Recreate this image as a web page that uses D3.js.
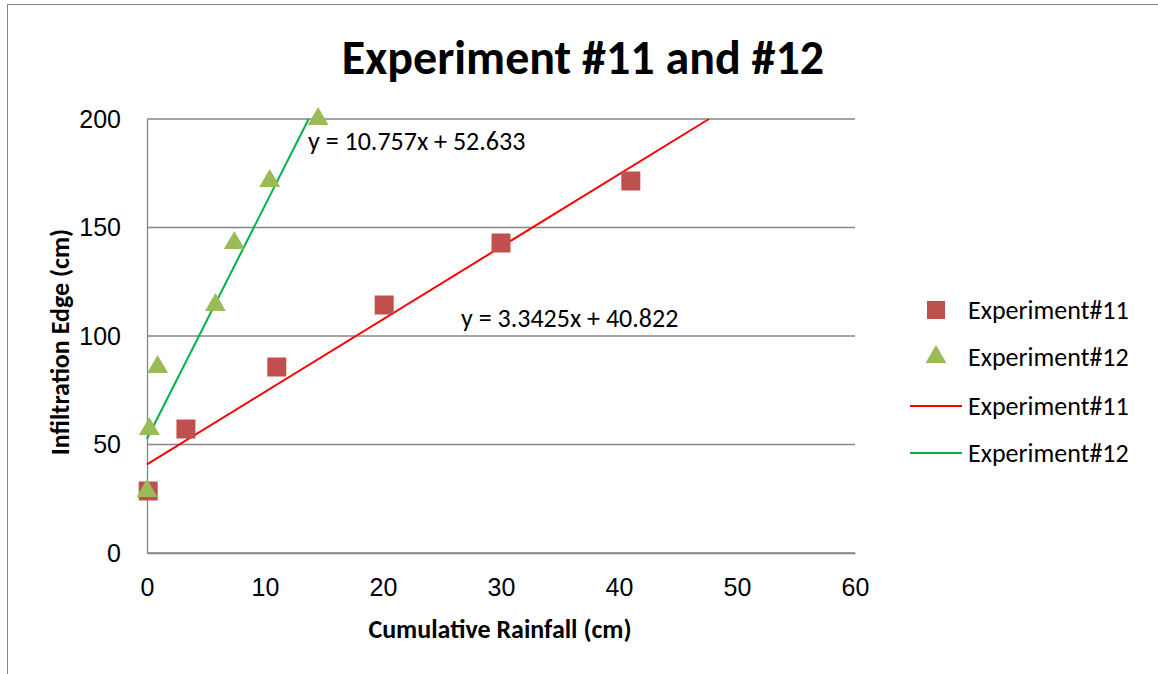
<!DOCTYPE html>
<html><head><meta charset="utf-8">
<script src="https://cdn.jsdelivr.net/npm/d3@7"></script>
<style>body{margin:0;background:#fff;} svg{display:block;font-family:Carlito,Calibri,Lato,"Open Sans",sans-serif;}</style>
</head><body>
<svg id="chart" width="1158" height="674"></svg>
<script>
const exp11X = [0.1, 3.3, 11.0, 20.1, 30.0, 41.0];
const exp11Y = [28.57, 57.14, 85.71, 114.29, 142.86, 171.43];
const exp12X = [0.0, 0.2, 0.9, 5.8, 7.4, 10.4, 14.5];
const exp12Y = [28.57, 57.14, 85.71, 114.29, 142.86, 171.43, 200];
const trend11 = {slope: 3.3425, intercept: 40.822, label: "y = 3.3425x + 40.822"};
const trend12 = {slope: 10.757, intercept: 52.633, label: "y = 10.757x + 52.633"};
const xTicks = [0, 10, 20, 30, 40, 50, 60];
const yTicks = [0, 50, 100, 150, 200];
const legendLabels = ["Experiment#11", "Experiment#12", "Experiment#11", "Experiment#12"];

(function () {
const svg = d3.select("#chart");
const pL = 147, pR = 855, pT = 119, pB = 553;
const x = d3.scaleLinear().domain([0, 60]).range([pL, pR]);
const y = d3.scaleLinear().domain([0, 200]).range([pB, pT]);
const FS = 26;

// outer border
svg.append("rect").attr("x", 7.5).attr("y", 4.5).attr("width", 1160).attr("height", 700)
  .attr("fill", "none").attr("stroke", "#868686").attr("stroke-width", 1);

// title
svg.append("text").attr("x", 583).attr("y", 74).attr("text-anchor", "middle")
  .attr("font-weight", "bold").attr("font-size", 48).attr("fill", "#000")
  .text("Experiment #11 and #12");

// gridlines
svg.append("g").selectAll("line").data(yTicks).join("line")
  .attr("x1", pL).attr("x2", pR).attr("y1", d => y(d)).attr("y2", d => y(d))
  .attr("stroke", "#868686").attr("stroke-width", 1.3);

// axes
const yAxis = svg.append("g").attr("transform", `translate(${pL},0)`)
  .call(d3.axisLeft(y).tickValues(yTicks).tickSize(0).tickPadding(26));
const xAxis = svg.append("g").attr("transform", `translate(0,${pB})`)
  .call(d3.axisBottom(x).tickValues(xTicks).tickSize(0).tickPadding(25));
[yAxis, xAxis].forEach(a => {
  a.select(".domain").attr("stroke", "#868686").attr("stroke-width", 1.3);
  a.selectAll("text").attr("font-size", 25).attr("fill", "#000").attr("font-family", "inherit");
});

// axis titles
svg.append("text").attr("x", 500).attr("y", 638).attr("text-anchor", "middle")
  .attr("font-weight", "bold").attr("font-size", FS).text("Cumulative Rainfall (cm)");
svg.append("text").attr("transform", `translate(69,342) rotate(-90)`)
  .attr("text-anchor", "middle").attr("font-weight", "bold").attr("font-size", FS)
  .text("Infiltration Edge (cm)");

// trendlines
function trendPts(t) {
  const xEnd = (200 - t.intercept) / t.slope;
  return [[0, t.intercept], [xEnd, 200]];
}
const line = d3.line().x(d => x(d[0])).y(d => y(d[1]));
svg.append("path").attr("d", line(trendPts(trend11))).attr("stroke", "#FF0000").attr("stroke-width", 2).attr("fill", "none");
svg.append("path").attr("d", line(trendPts(trend12))).attr("stroke", "#00B050").attr("stroke-width", 2).attr("fill", "none");

// markers
const sq = d3.symbol().type(d3.symbolSquare).size(19 * 19);
const tri = d3.symbol().type(d3.symbolTriangle).size(190);
svg.append("g").selectAll("path").data(exp11X.map((v, i) => [v, exp11Y[i]])).join("path")
  .attr("d", sq).attr("transform", d => `translate(${x(d[0])},${y(d[1])})`).attr("fill", "#C0504D");
svg.append("g").selectAll("path").data(exp12X.map((v, i) => [v, exp12Y[i]])).join("path")
  .attr("d", tri).attr("transform", d => `translate(${x(d[0])},${y(d[1])})`).attr("fill", "#9BBB59");

// equations
svg.append("text").attr("x", 308).attr("y", 150).attr("font-size", FS).text(trend12.label);
svg.append("text").attr("x", 461).attr("y", 327).attr("font-size", FS).text(trend11.label);

// legend
const lg = svg.append("g");
const ly = [310, 357, 406, 453];
lg.append("path").attr("d", d3.symbol().type(d3.symbolSquare).size(18 * 18)).attr("transform", `translate(936,${ly[0]})`).attr("fill", "#C0504D");
lg.append("path").attr("d", tri).attr("transform", `translate(936,${ly[1]})`).attr("fill", "#9BBB59");
lg.append("line").attr("x1", 910).attr("x2", 962).attr("y1", ly[2]).attr("y2", ly[2]).attr("stroke", "#FF0000").attr("stroke-width", 2);
lg.append("line").attr("x1", 910).attr("x2", 962).attr("y1", ly[3]).attr("y2", ly[3]).attr("stroke", "#00B050").attr("stroke-width", 2);
lg.selectAll("text").data(legendLabels).join("text")
  .attr("x", 968).attr("y", (d, i) => ly[i] + 9).attr("font-size", FS).text(d => d);
})();
</script>
</body></html>
